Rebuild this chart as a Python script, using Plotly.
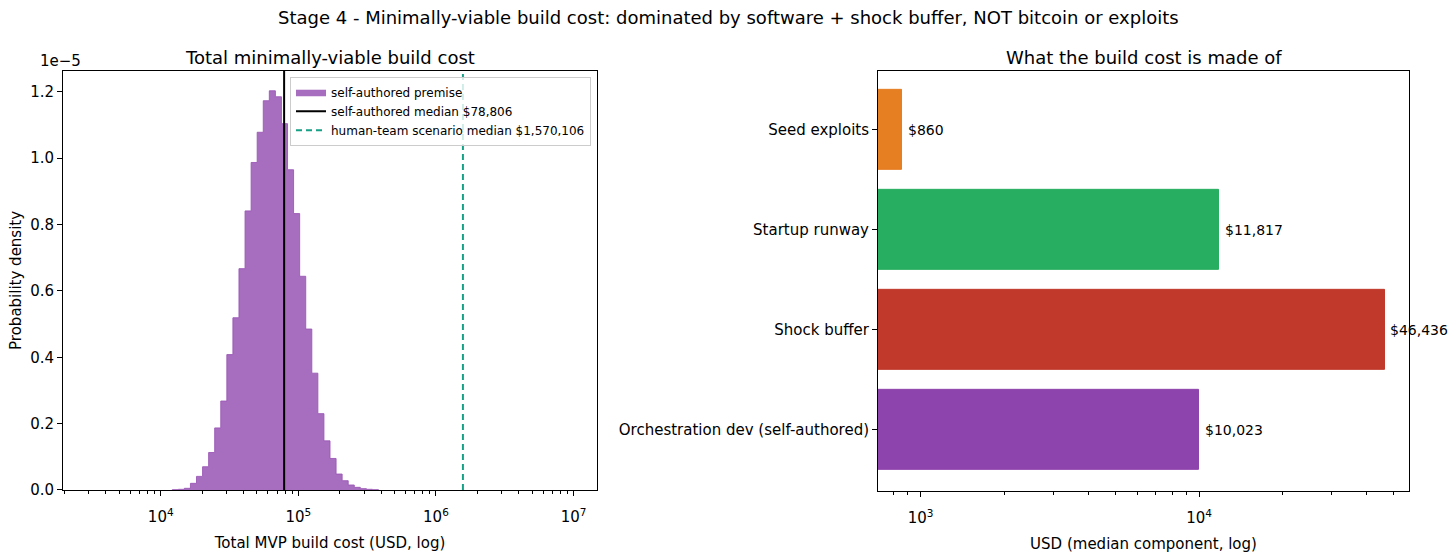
import numpy as np
import plotly.graph_objects as go

# ---------------- data ----------------
# Histogram: log-spaced bins (80 bins between 10^3.466 and 10^6.994), density values in units of 1e-5
HIST_LOG_MIN = 3.466
HIST_LOG_MAX = 6.994
N_BINS = 80
FIRST_BIN_INDEX = 14
density_e5 = [0.001, 0.002, 0.005, 0.020, 0.041, 0.070, 0.113, 0.187, 0.268, 0.408,
              0.519, 0.667, 0.841, 0.987, 1.078, 1.173, 1.203, 1.185, 1.104, 0.965,
              0.833, 0.644, 0.485, 0.352, 0.230, 0.148, 0.095, 0.048, 0.028, 0.015,
              0.008, 0.004, 0.002, 0.001]

self_median = 78806
human_median = 1570106

components = ["Orchestration dev (self-authored)", "Shock buffer", "Startup runway", "Seed exploits"]
component_values = [10023, 46436, 11817, 860]
component_colors = ["#8e44ad", "#c0392b", "#27ae60", "#e67e22"]

left_xticks = [1e4, 1e5, 1e6, 1e7]
left_xticktext = ["10<sup>4</sup>", "10<sup>5</sup>", "10<sup>6</sup>", "10<sup>7</sup>"]
right_xticks = [1e3, 1e4]
right_xticktext = ["10<sup>3</sup>", "10<sup>4</sup>"]
left_yticks = [0.0, 0.2, 0.4, 0.6, 0.8, 1.0, 1.2]

# ---------------- geometry ----------------
W, H = 1456, 559
FONT = "DejaVu Sans"
TICK = 15
TITLE = 18
edges = np.logspace(HIST_LOG_MIN, HIST_LOG_MAX, N_BINS + 1)
xs = list(edges[FIRST_BIN_INDEX:FIRST_BIN_INDEX + len(density_e5) + 1])
ys = list(density_e5) + [density_e5[-1]]
ymax = max(density_e5) * 1.05
xr_log = [HIST_LOG_MIN - 0.05 * (HIST_LOG_MAX - HIST_LOG_MIN),
          HIST_LOG_MAX + 0.05 * (HIST_LOG_MAX - HIST_LOG_MIN)]

def minor_vals(lo, hi):
    v = []
    for d in range(int(np.floor(lo)), int(np.ceil(hi)) + 1):
        for m in range(2, 10):
            val = m * 10 ** d
            if lo <= np.log10(val) <= hi:
                v.append(val)
    return v

fig = go.Figure()

fig.add_trace(go.Scatter(
    x=[xs[0]] + xs + [xs[-1]], y=[0] + ys + [0], mode="lines", line_shape="hv",
    fill="toself", fillcolor="rgba(155,89,182,0.88)",
    line=dict(color="rgba(155,89,182,0.9)", width=1),
    name="self-authored premise", xaxis="x", yaxis="y"))

fig.add_trace(go.Scatter(
    x=[self_median, self_median], y=[0, ymax], mode="lines",
    line=dict(color="black", width=2), name=f"self-authored median ${self_median:,}",
    xaxis="x", yaxis="y"))
fig.add_trace(go.Scatter(
    x=[human_median, human_median], y=[0, ymax], mode="lines",
    line=dict(color="#16a085", width=2, dash="6px,4px"),
    name=f"human-team scenario median ${human_median:,}", xaxis="x", yaxis="y"))

fig.add_trace(go.Bar(
    x=component_values, y=components, orientation="h", width=0.8,
    marker=dict(color=component_colors, line=dict(color=component_colors, width=1)),
    showlegend=False, xaxis="x2", yaxis="y2"))

for v, c in zip(component_values, components):
    fig.add_annotation(x=np.log10(v * 1.03), y=c, xref="x2", yref="y2", text=f"${v:,}",
                       showarrow=False, xanchor="left", yanchor="middle",
                       font=dict(size=14, color="black", family=FONT))

axis_common = dict(showline=True, linecolor="black", linewidth=1, mirror=True,
                   ticks="outside", ticklen=5, tickcolor="black", showgrid=False,
                   zeroline=False, tickfont=dict(size=TICK, color="black", family=FONT))

fig.update_layout(
    width=W, height=H, margin=dict(l=0, r=0, t=0, b=0),
    paper_bgcolor="white", plot_bgcolor="white",
    font=dict(family=FONT, color="black"),
    xaxis=dict(domain=[63 / W, 597 / W], type="log", range=xr_log, anchor="y",
               tickmode="array", tickvals=left_xticks, ticktext=left_xticktext,
               ticklabelstandoff=8,
               minor=dict(tickmode="array", tickvals=minor_vals(*xr_log), ticks="outside",
                          ticklen=3, tickcolor="black"),
               title=dict(text="Total MVP build cost (USD, log)", font=dict(size=TICK), standoff=12),
               **axis_common),
    yaxis=dict(domain=[1 - 498 / H, 1 - 72 / H], range=[0, ymax], anchor="x",
               tickmode="array", tickvals=left_yticks,
               ticktext=[f"{t:.1f}" for t in left_yticks],
               title=dict(text="Probability density", font=dict(size=TICK), standoff=4),
               **axis_common),
    xaxis2=dict(domain=[878 / W, 1409 / W], type="log", range=[2.847, 4.754], anchor="y2",
                tickmode="array", tickvals=right_xticks, ticktext=right_xticktext,
                ticklabelstandoff=8,
                minor=dict(tickmode="array", tickvals=minor_vals(2.847, 4.754), ticks="outside",
                           ticklen=3, tickcolor="black"),
                title=dict(text="USD (median component, log)", font=dict(size=TICK), standoff=12),
                **axis_common),
    yaxis2=dict(domain=[1 - 499 / H, 1 - 72 / H], anchor="x2", type="category",
                categoryorder="array", categoryarray=components, range=[-0.61, 3.59],
                **axis_common),
    legend=dict(x=591 / W, y=1 - 78 / H, xanchor="right", yanchor="top",
                bgcolor="rgba(255,255,255,0.8)", bordercolor="#cccccc", borderwidth=1,
                font=dict(size=12, family=FONT), tracegroupgap=0, itemwidth=30),
    bargap=0,
    showlegend=True,
)

fig.add_annotation(x=0.5, y=1 - 18 / H, xref="paper", yref="paper",
                   text="Stage 4 - Minimally-viable build cost: dominated by software + shock buffer, NOT bitcoin or exploits",
                   showarrow=False, xanchor="center", yanchor="middle", font=dict(size=TITLE, family=FONT))
fig.add_annotation(x=(63 + 597) / 2 / W, y=1 - 58 / H, xref="paper", yref="paper",
                   text="Total minimally-viable build cost", showarrow=False,
                   xanchor="center", yanchor="middle", font=dict(size=TITLE, family=FONT))
fig.add_annotation(x=(878 + 1409) / 2 / W, y=1 - 58 / H, xref="paper", yref="paper",
                   text="What the build cost is made of", showarrow=False,
                   xanchor="center", yanchor="middle", font=dict(size=TITLE, family=FONT))
fig.add_annotation(x=38 / W, y=1 - 62 / H, xref="paper", yref="paper",
                   text="1e\u22125", showarrow=False, xanchor="left", yanchor="middle",
                   font=dict(size=TICK, family=FONT))

fig.write_html("out.html")
